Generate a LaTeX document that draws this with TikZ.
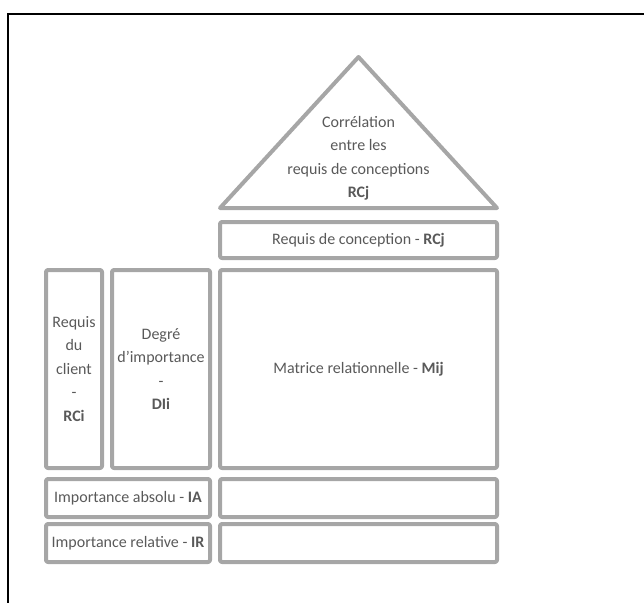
\documentclass[tikz,border=0pt]{standalone}
\usepackage{fontspec}
\setmainfont{Carlito}
\definecolor{boxgray}{HTML}{A6A6A6}
\definecolor{txtgray}{HTML}{595959}
\begin{document}
\begin{tikzpicture}[x=1pt,y=-1pt,
  qbox/.style={draw=boxgray, line width=4pt, rounded corners=2pt, line join=round,
    rectangle, inner sep=0pt, outer sep=0pt, text=txtgray, align=center,
    font=\fontsize{16}{23.5}\selectfont},
  qtext/.style={text=txtgray, align=center, inner sep=0pt, font=\fontsize{16}{23.5}\selectfont}]
\useasboundingbox (0,0) rectangle (644,602);
\clip (0,0) rectangle (644,602);
\draw[line width=1.6pt, black] (8,14) rectangle (700,700);
% roof
\coordinate (apex) at (358.5,57);
\coordinate (bl) at (220,208);
\coordinate (br) at (497,208);
\draw[boxgray, line width=4pt, line join=round, line cap=round] (bl) -- (apex) -- (br) -- cycle;
\node[qtext] (corr) at (358.5,158.5) {Corrélation\\entre les\\requis de conceptions\\\textbf{RCj}};
% design requirements
\node[qbox, minimum width=277pt, minimum height=36pt] (rcj) at (358.5,240) {Requis de conception - \textbf{RCj}};
% columns
\node[qbox, minimum width=56pt, minimum height=198pt] (rci) at (74,369) {Requis\\du\\client\\-\\\textbf{RCi}};
\node[qbox, minimum width=98pt, minimum height=198pt] (dii) at (161,369) {Degré\\d’importance\\-\\\textbf{DIi}};
\node[qbox, minimum width=277pt, minimum height=198pt] (mij) at (358.5,369) {Matrice relationnelle - \textbf{Mij}};
% bottom rows
\node[qbox, minimum width=164pt, minimum height=38pt] (ia) at (128,498) {Importance absolu - \textbf{IA}};
\node[qbox, minimum width=277pt, minimum height=38pt] (iar) at (358.5,498) {};
\node[qbox, minimum width=164pt, minimum height=38pt] (ir) at (128,543) {Importance relative - \textbf{IR}};
\node[qbox, minimum width=277pt, minimum height=38pt] (irr) at (358.5,543) {};
\end{tikzpicture}
\end{document}
